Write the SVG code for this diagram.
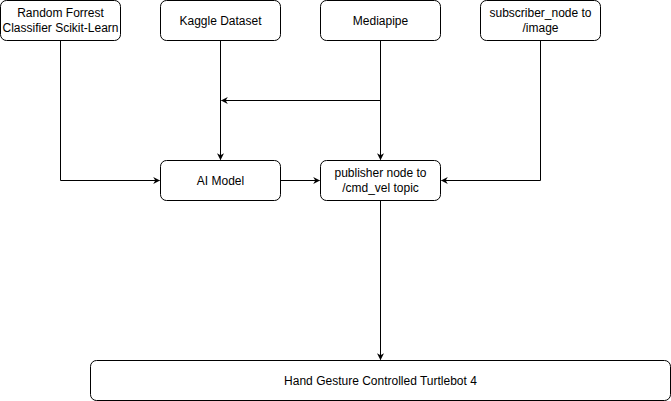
<svg xmlns="http://www.w3.org/2000/svg" width="671" height="401" viewBox="0 0 671 401">
<style>
.box{fill:#fff;stroke:#000;stroke-width:1}
.lbl{font-family:"Liberation Sans",Arial,sans-serif;font-size:12px;fill:#000;text-anchor:middle}
.edge{fill:none;stroke:#000;stroke-width:1}
</style>
<defs>
<marker id="arr" viewBox="0 0 10 10" refX="9" refY="5" markerWidth="7" markerHeight="7" markerUnits="userSpaceOnUse" orient="auto">
<path d="M0,0 L10,5 L0,10 L3,5 Z" fill="#000"/>
</marker>
</defs>
<rect width="671" height="401" fill="#fff"/>
<g id="connectors">
<path class="edge" d="M60.5,40.5 V180.5 H159.5" marker-end="url(#arr)"/>
<path class="edge" d="M220.5,40.5 V159.5" marker-end="url(#arr)"/>
<path class="edge" d="M380.5,40.5 V159.5" marker-end="url(#arr)"/>
<path class="edge" d="M380.5,100.5 H221.5" marker-end="url(#arr)"/>
<path class="edge" d="M540.5,40.5 V180.5 H441.5" marker-end="url(#arr)"/>
<path class="edge" d="M280.5,180.5 H319.5" marker-end="url(#arr)"/>
<path class="edge" d="M380.5,200.5 V359.5" marker-end="url(#arr)"/>
</g>
<g id="rf">
<rect class="box" x="0.5" y="0.5" width="120" height="40" rx="6"/>
<text class="lbl" x="60.5" y="17">Random Forrest</text>
<text class="lbl" x="60.5" y="32">Classifier Scikit-Learn</text>
</g>
<g id="kaggle">
<rect class="box" x="160.5" y="0.5" width="120" height="40" rx="6"/>
<text class="lbl" x="220.5" y="24.5">Kaggle Dataset</text>
</g>
<g id="mediapipe">
<rect class="box" x="320.5" y="0.5" width="120" height="40" rx="6"/>
<text class="lbl" x="380.5" y="24.5">Mediapipe</text>
</g>
<g id="subscriber">
<rect class="box" x="480.5" y="0.5" width="120" height="40" rx="6"/>
<text class="lbl" x="540.5" y="17">subscriber_node to</text>
<text class="lbl" x="540.5" y="32">/image</text>
</g>
<g id="aimodel">
<rect class="box" x="160.5" y="160.5" width="120" height="40" rx="6"/>
<text class="lbl" x="220.5" y="184.5">AI Model</text>
</g>
<g id="publisher">
<rect class="box" x="320.5" y="160.5" width="120" height="40" rx="6"/>
<text class="lbl" x="380.5" y="177">publisher node to</text>
<text class="lbl" x="380.5" y="192">/cmd_vel topic</text>
</g>
<g id="turtlebot">
<rect class="box" x="90.5" y="360.5" width="580" height="40" rx="6"/>
<text class="lbl" x="380.5" y="384.5">Hand Gesture Controlled Turtlebot 4</text>
</g>
</svg>
